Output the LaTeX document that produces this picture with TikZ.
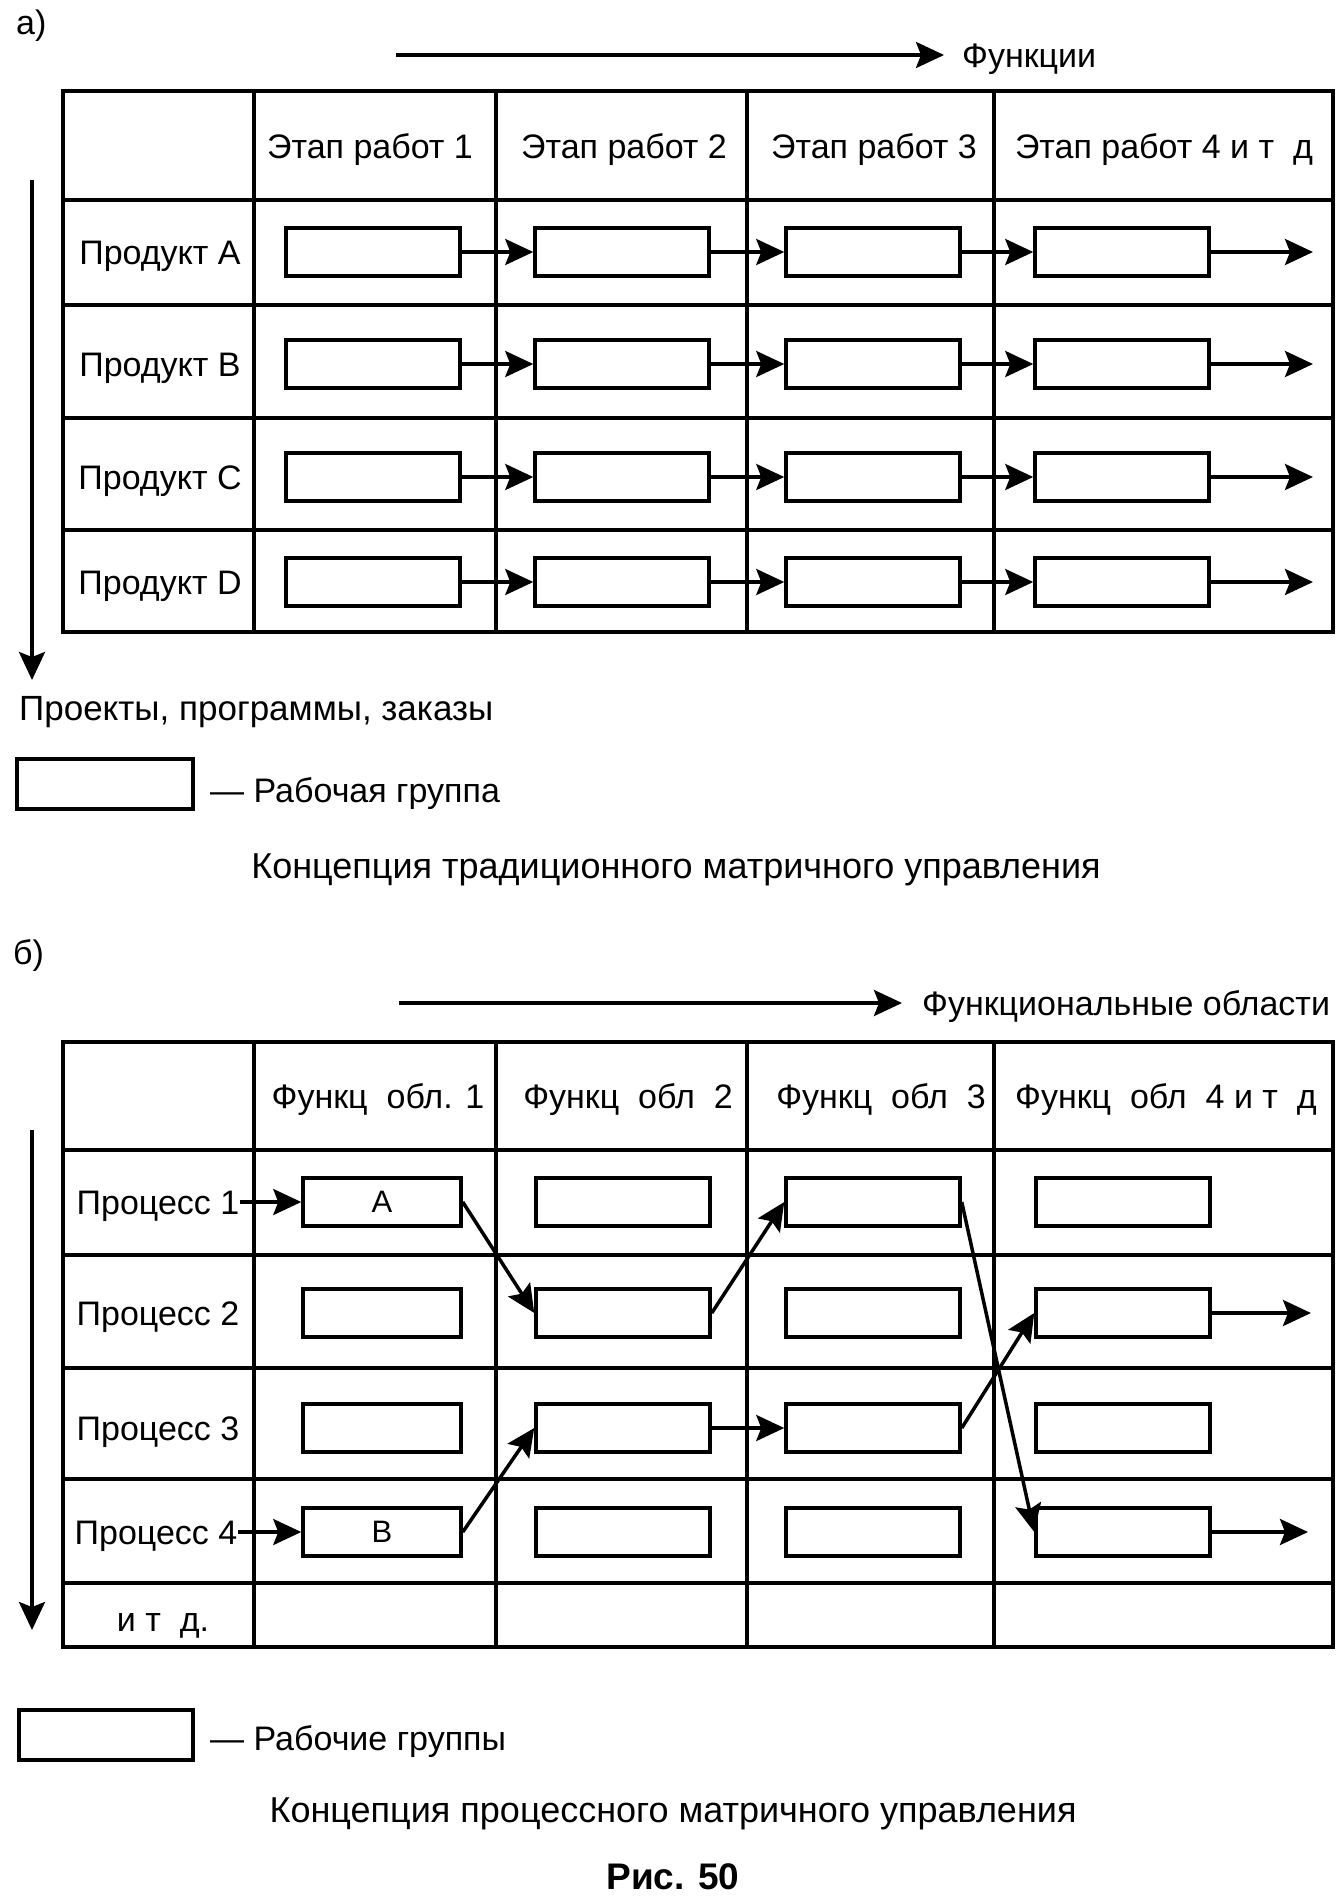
\documentclass[tikz,border=0pt]{standalone}
\usepackage{fontspec}
\setmainfont{Liberation Sans}
\usetikzlibrary{arrows.meta}
\begin{document}
\begin{tikzpicture}[x=1pt,y=-1pt,
  txt/.style={font=\fontsize{34}{40}\selectfont, inner sep=0pt},
  captxt/.style={font=\fontsize{36}{42}\selectfont, inner sep=0pt},
  bold/.style={font=\fontsize{37}{43}\selectfont\bfseries, inner sep=0pt},
  wg/.style={draw, line width=3.5pt, minimum width=174pt, minimum height=48pt, inner sep=0pt, font=\fontsize{31}{36}\selectfont},
  wgn/.style={wg, minimum width=158pt},
  gridline/.style={line width=4pt},
  arr/.style={line width=3.5pt, -{Stealth[length=28pt,width=26pt,inset=5pt]}},
]
\useasboundingbox (0,0) rectangle (1342,1896);
\fill[white] (0,0) rectangle (1342,1896);

% ---------------- part a ----------------
\node[txt, anchor=base west] (la) at (16,34) {а)};
\coordinate (fa) at (396,55);
\node[txt, anchor=base west] (funk) at (962,67) {Функции};
\draw[arr] (fa) -- ([xshift=-18pt]funk.west |- fa);

\draw[gridline] (63,91) rectangle (1333,632);
\foreach \x in {254,496,747,994} \draw[gridline] (\x,91) -- (\x,632);
\foreach \y in {200,305,418,530} \draw[gridline] (63,\y) -- (1333,\y);

\node[txt, anchor=base] (ha1) at (370,158) {Этап работ 1};
\node[txt, anchor=base] (ha2) at (624,158) {Этап работ 2};
\node[txt, anchor=base] (ha3) at (874,158) {Этап работ 3};
\node[txt, anchor=base] (ha4) at (1164,158) {Этап работ 4 и т\ \ д};

\node[txt, anchor=base] (pa) at (160,264) {Продукт A};
\node[txt, anchor=base] (pb) at (160,376) {Продукт B};
\node[txt, anchor=base] (pc) at (160,489) {Продукт C};
\node[txt, anchor=base] (pd) at (160,594) {Продукт D};

\foreach \r/\y in {1/252,2/364,3/477,4/582}{
  \foreach \c/\x in {1/373,2/622,3/873,4/1122}{
    \node[wg] (a\r\c) at (\x,\y) {};
  }
  \coordinate (ea\r) at (1313,\y);
  \draw[arr] (a\r1) -- (a\r2);
  \draw[arr] (a\r2) -- (a\r3);
  \draw[arr] (a\r3) -- (a\r4);
  \draw[arr] (a\r4) -- (ea\r);
}

\coordinate (va1) at (32,180);
\coordinate (va2) at (32,680);
\draw[arr] (va1) -- (va2);

\node[captxt, font=\fontsize{35}{41}\selectfont, anchor=base west] (proj) at (19,720) {Проекты, программы, заказы};
\node[wg, minimum width=176pt, minimum height=50pt] (lg1) at (105,784) {};
\node[txt, anchor=base west] (lt1) at (210,802) {— Рабочая группа};
\node[captxt, anchor=base] (cap1) at (676,878) {Концепция традиционного матричного управления};

% ---------------- part b ----------------
\node[txt, anchor=base west] (lb) at (13,964) {б)};
\coordinate (fb) at (399,1003);
\node[txt, anchor=base west] (fobl) at (922,1015) {Функциональные области};
\draw[arr] (fb) -- ([xshift=-20pt]fobl.west |- fb);

\draw[gridline] (63,1042) rectangle (1333,1647);
\foreach \x in {254,496,747,994} \draw[gridline] (\x,1042) -- (\x,1647);
\foreach \y in {1150,1255,1368,1479,1583} \draw[gridline] (63,\y) -- (1333,\y);

\node[txt, anchor=base] (hb1) at (378,1108) {Функц\ \ обл. 1};
\node[txt, anchor=base] (hb2) at (628,1108) {Функц\ \ обл\ \ 2};
\node[txt, anchor=base] (hb3) at (881,1108) {Функц\ \ обл\ \ 3};
\node[txt, anchor=base] (hb4) at (1166,1108) {Функц\ \ обл\ \ 4 и т\ \ д};

\node[txt, anchor=base] (q1) at (158,1214) {Процесс 1};
\node[txt, anchor=base] (q2) at (158,1325) {Процесс 2};
\node[txt, anchor=base] (q3) at (158,1440) {Процесс 3};
\node[txt, anchor=base] (q4) at (156,1544) {Процесс 4};
\node[txt, anchor=base] (q5) at (163,1631) {и т\ \ д.};

\foreach \r/\y in {1/1202,2/1313,3/1428,4/1532}{
  \node[wgn] (b\r1) at (382,\y) {};
  \node[wg] (b\r2) at (623,\y) {};
  \node[wg] (b\r3) at (873,\y) {};
  \node[wg] (b\r4) at (1123,\y) {};
}
\node[font=\fontsize{31}{36}\selectfont] at (b11) {A};
\node[font=\fontsize{31}{36}\selectfont] at (b41) {B};

\coordinate (eb2) at (1311,1313);
\coordinate (eb4) at (1308,1532);

\draw[arr] (q1.east |- b11) -- (b11);
\draw[arr] (q4.east |- b41) -- (b41);
\draw[arr] (b11.east) -- (b22.west);
\draw[arr] (b22.east) -- (b13.west);
\draw[arr] (b13.east) -- (b44.west);
\draw[arr] (b41.east) -- (b32.west);
\draw[arr] (b32) -- (b33);
\draw[arr] (b33.east) -- (b24.west);
\draw[arr] (b24) -- (eb2);
\draw[arr] (b44) -- (eb4);

\coordinate (vb1) at (32,1130);
\coordinate (vb2) at (32,1630);
\draw[arr] (vb1) -- (vb2);

\node[wg, minimum width=174pt, minimum height=50pt] (lg2) at (106,1735) {};
\node[txt, anchor=base west] (lt2) at (210,1750) {— Рабочие группы};
\node[captxt, anchor=base] (cap2) at (673,1822) {Концепция процессного матричного управления};
\node[bold, anchor=base] (fig) at (673,1889) {Рис. 50};
\end{tikzpicture}
\end{document}
